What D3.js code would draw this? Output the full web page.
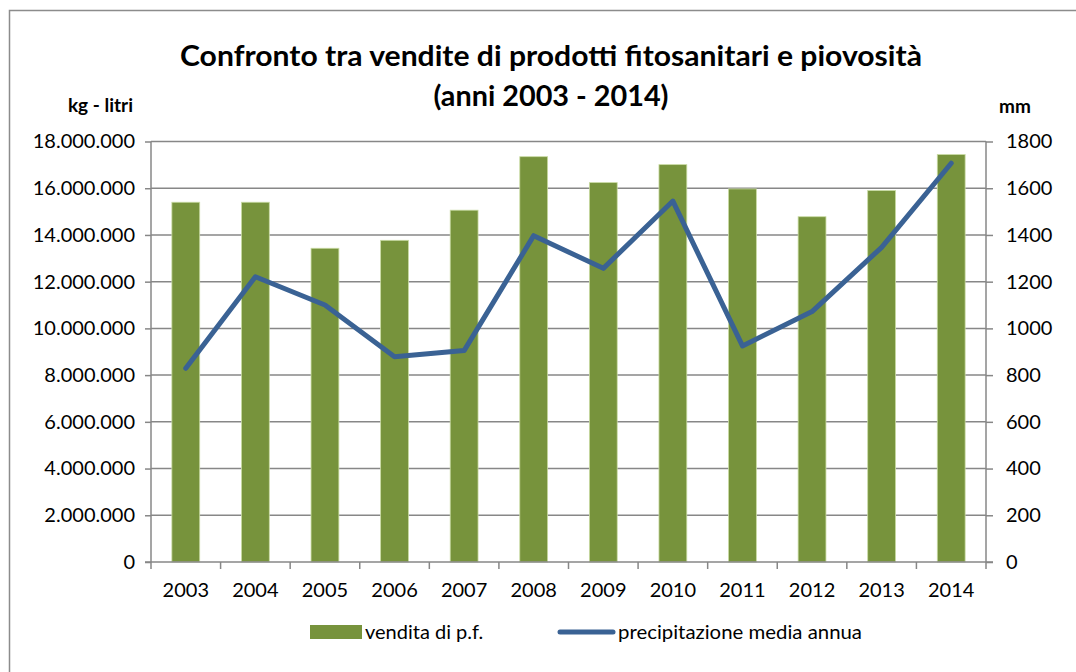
<!DOCTYPE html>
<html>
<head>
<meta charset="utf-8">
<script src="https://cdn.jsdelivr.net/npm/d3@7"></script>
<style>
  html, body { margin: 0; padding: 0; background: #fff; }
  svg { display: block; font-family: Lato, "Open Sans", sans-serif; }
</style>
</head>
<body>
<svg id="chart" width="1076" height="672"></svg>
<script>
const years = ["2003","2004","2005","2006","2007","2008","2009","2010","2011","2012","2013","2014"];
const vendite = [15400000, 15400000, 13430000, 13770000, 15060000, 17350000, 16240000, 17010000, 15970000, 14780000, 15900000, 17440000];
const precipitazione = [829, 1221, 1100, 879, 905, 1397, 1257, 1545, 925, 1072, 1347, 1707];
const leftTicks = [0, 2000000, 4000000, 6000000, 8000000, 10000000, 12000000, 14000000, 16000000, 18000000];
const rightTicks = [0, 200, 400, 600, 800, 1000, 1200, 1400, 1600, 1800];
const titleLines = ["Confronto tra vendite di prodotti fitosanitari e piovosità", "(anni 2003 - 2014)"];
const seriesNames = ["vendita di p.f.", "precipitazione media annua"];
const leftAxisTitle = "kg - litri";
const rightAxisTitle = "mm";

const svg = d3.select("#chart");
const gridColor = "#878787";
const barColor = "#77933c";
const lineColor = "#3a6294";

const plot = { left: 151, right: 986, top: 141.5, bottom: 562 };

// outer frame
svg.append("path")
  .attr("d", `M9.5,700 V10.5 H1100`)
  .attr("fill", "none").attr("stroke", "#8c8c8c").attr("stroke-width", 1.5);

const x = d3.scaleBand().domain(years).range([plot.left, plot.right]).paddingInner(0.6).paddingOuter(0.3);
const yL = d3.scaleLinear().domain([0, 18000000]).range([plot.bottom, plot.top]);
const yR = d3.scaleLinear().domain([0, 1800]).range([plot.bottom, plot.top]);

const fmt = v => v === 0 ? "0" : d3.format(",")(v).replace(/,/g, ".");

// gridlines
svg.append("g").selectAll("line").data(leftTicks.filter(d => d > 0)).join("line")
  .attr("x1", plot.left).attr("x2", plot.right)
  .attr("y1", d => yL(d)).attr("y2", d => yL(d))
  .attr("stroke", gridColor).attr("stroke-width", 1.5);

// bars
svg.append("g").selectAll("rect").data(years).join("rect")
  .attr("x", d => x(d))
  .attr("width", x.bandwidth())
  .attr("y", (d, i) => yL(vendite[i]))
  .attr("height", (d, i) => yL(0) - yL(vendite[i]))
  .attr("fill", barColor)
  .attr("stroke", "#c9dba3").attr("stroke-width", 0.8);

// left axis
const leftAxis = d3.axisLeft(yL).tickValues(leftTicks).tickFormat(fmt).tickSize(6).tickPadding(10);
const gL = svg.append("g").attr("transform", `translate(${plot.left},0)`).call(leftAxis);
// right axis
const rightAxis = d3.axisRight(yR).tickValues(rightTicks).tickFormat(d => String(d)).tickSize(7).tickPadding(13);
const gR = svg.append("g").attr("transform", `translate(${plot.right},0)`).call(rightAxis);
// bottom axis
const bandEdges = years.map(d => x(d) - x.step() * x.paddingInner() / 2).concat([plot.right]);
const gB = svg.append("g");
gB.append("line").attr("x1", plot.left - 6).attr("x2", plot.right + 7)
  .attr("y1", plot.bottom).attr("y2", plot.bottom)
  .attr("stroke", gridColor).attr("stroke-width", 1.5);
gB.selectAll("line.t").data(bandEdges).join("line").attr("class", "t")
  .attr("x1", d => d).attr("x2", d => d)
  .attr("y1", plot.bottom).attr("y2", plot.bottom + 7)
  .attr("stroke", gridColor).attr("stroke-width", 1.5);
gB.selectAll("text").data(years).join("text")
  .attr("x", d => x(d) + x.bandwidth() / 2)
  .attr("y", 597)
  .attr("text-anchor", "middle")
  .attr("font-size", 20).attr("fill", "#000")
  .text(d => d);

[gL, gR].forEach(g => {
  g.select(".domain").attr("stroke", gridColor).attr("stroke-width", 1.5);
  g.selectAll(".tick line").attr("stroke", gridColor).attr("stroke-width", 1.5);
  g.selectAll(".tick text").attr("font-size", 20).attr("fill", "#000").attr("font-family", "Lato, sans-serif");
});
gL.select(".domain").attr("d", `M-0.0,${plot.bottom}V${plot.top}`);
gR.select(".domain").attr("d", `M0,${plot.bottom}V${plot.top}`);

// line series
const line = d3.line()
  .x((d, i) => x(years[i]) + x.bandwidth() / 2)
  .y(d => yR(d));
svg.append("path").datum(precipitazione)
  .attr("d", line)
  .attr("fill", "none").attr("stroke", lineColor)
  .attr("stroke-width", 5).attr("stroke-linejoin", "round").attr("stroke-linecap", "round");

// titles
svg.append("text").attr("x", 551).attr("y", 66).attr("text-anchor", "middle")
  .attr("font-size", 28).attr("font-weight", "bold")
  .attr("textLength", 742).attr("lengthAdjust", "spacingAndGlyphs")
  .text(titleLines[0]);
svg.append("text").attr("x", 551).attr("y", 106).attr("text-anchor", "middle")
  .attr("font-size", 28).attr("font-weight", "bold")
  .attr("textLength", 235).attr("lengthAdjust", "spacingAndGlyphs")
  .text(titleLines[1]);
svg.append("text").attr("x", 133).attr("y", 112).attr("text-anchor", "end")
  .attr("font-size", 19).attr("font-weight", "bold").text(leftAxisTitle);
svg.append("text").attr("x", 999).attr("y", 113).attr("text-anchor", "start")
  .attr("font-size", 19).attr("font-weight", "bold").text(rightAxisTitle);

// legend
const lg = svg.append("g");
lg.append("rect").attr("x", 310).attr("y", 625).attr("width", 52).attr("height", 14).attr("fill", barColor);
lg.append("text").attr("x", 365).attr("y", 639).attr("font-size", 20).text(seriesNames[0]);
lg.append("line").attr("x1", 560).attr("x2", 613).attr("y1", 632).attr("y2", 632)
  .attr("stroke", lineColor).attr("stroke-width", 5).attr("stroke-linecap", "round");
lg.append("text").attr("x", 618).attr("y", 639).attr("font-size", 20)
  .attr("textLength", 244).attr("lengthAdjust", "spacingAndGlyphs").text(seriesNames[1]);
</script>
</body>
</html>
